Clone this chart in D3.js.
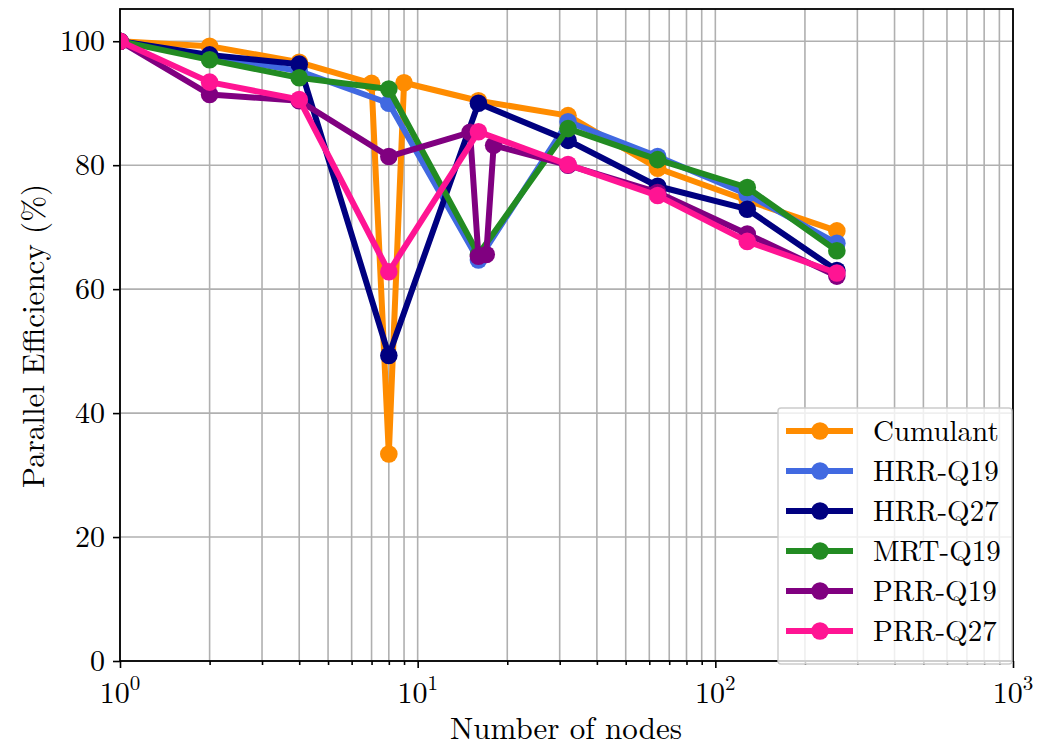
<!DOCTYPE html>
<html><head><meta charset="utf-8">
<script src="https://cdn.jsdelivr.net/npm/d3@7"></script>
<style>body{margin:0;background:#fff}svg{display:block}</style>
</head><body>
<svg id="c" width="1039" height="748"></svg>
<script>
const seriesNames = ["Cumulant","HRR-Q19","HRR-Q27","MRT-Q19","PRR-Q19","PRR-Q27"];
const seriesColors = ["#ff8c00","#4169e1","#000080","#228b22","#800080","#ff1493"];
const xCumulant = [1,2,4,7,8,9,16,32,64,128,256];
const cumulant = [100,99.2,96.6,93.2,33.4,93.3,90.4,88.0,79.5,74.3,69.4];
const xStd = [1,2,4,8,16,32,64,128,256];
const hrrQ19 = [100,97.6,95.2,90.0,64.7,87.0,81.4,75.3,67.4];
const hrrQ27 = [100,97.8,96.3,49.3,90.0,84.0,76.6,72.9,63.0];
const mrtQ19 = [100,97.0,94.1,92.3,65.6,85.9,80.9,76.4,66.2];
const xPrrQ19 = [1,2,4,8,15,16,17,18,32,64,128,256];
const prrQ19 = [100,91.4,90.4,81.4,85.3,65.3,65.6,83.2,80.0,75.6,68.9,62.1];
const prrQ27 = [100,93.4,90.6,62.8,85.4,80.1,75.1,67.7,62.6];
const yTicks = [0,20,40,60,80,100];
const xMajor = [1,10,100,1000];

const seriesX = [xCumulant,xStd,xStd,xStd,xPrrQ19,xStd];
const seriesY = [cumulant,hrrQ19,hrrQ27,mrtQ19,prrQ19,prrQ27];

const L=120,R=1013,T=9,B=661;
const svg=d3.select("#c");
const x=d3.scaleLog().domain([1,1000]).range([L,R]);
const y=d3.scaleLinear().domain([0,105.2]).range([B,T]);
const font='"Latin Modern Roman","CMU Serif","Liberation Serif",serif';

const xMinor=[];
for(let d=1;d<1000;d*=10) for(let k=2;k<=9;k++) xMinor.push(d*k);

// grid
const g=svg.append("g");
g.selectAll("line.xg").data(xMajor.concat(xMinor)).enter().append("line")
 .attr("x1",d=>x(d)).attr("x2",d=>x(d)).attr("y1",T).attr("y2",B)
 .attr("stroke","#b0b0b0").attr("stroke-width",1.6);
g.selectAll("line.yg").data(yTicks).enter().append("line")
 .attr("x1",L).attr("x2",R).attr("y1",d=>y(d)).attr("y2",d=>y(d))
 .attr("stroke","#b0b0b0").attr("stroke-width",1.6);

// series
svg.append("clipPath").attr("id","cp").append("rect").attr("x",L).attr("y",T).attr("width",R-L).attr("height",B-T);
const line=d3.line().x(d=>x(d[0])).y(d=>y(d[1]));
seriesNames.forEach((n,i)=>{
  const pts=seriesX[i].map((xv,j)=>[xv,seriesY[i][j]]);
  const sg=svg.append("g").attr("clip-path","url(#cp)");
  sg.append("path").attr("d",line(pts)).attr("fill","none").attr("stroke",seriesColors[i])
    .attr("stroke-width",6).attr("stroke-linejoin","round").attr("stroke-linecap","butt");
  sg.selectAll("circle").data(pts).enter().append("circle")
    .attr("cx",d=>x(d[0])).attr("cy",d=>y(d[1])).attr("r",8.8).attr("fill",seriesColors[i]);
});

// axes
const xa=svg.append("g").attr("transform",`translate(0,${B})`)
 .call(d3.axisBottom(x).tickValues(xMajor).tickSize(7).tickFormat(""));
const xm=svg.append("g").attr("transform",`translate(0,${B})`)
 .call(d3.axisBottom(x).tickValues(xMinor).tickSize(4).tickFormat(""));
const ya=svg.append("g").attr("transform",`translate(${L},0)`)
 .call(d3.axisLeft(y).tickValues(yTicks).tickSize(7).tickFormat(d3.format("d")));
[xa,xm,ya].forEach(a=>{a.select(".domain").remove();a.selectAll("line").attr("stroke","#000").attr("stroke-width",1.6);});
ya.selectAll("text").attr("font-family",font).attr("font-size",30).attr("fill","#000").attr("x",-15).attr("dy","0.32em");

// x labels with superscripts
xMajor.forEach(v=>{
  const t=svg.append("text").attr("x",x(v)).attr("y",703).attr("text-anchor","middle")
    .attr("font-family",font).attr("font-size",30);
  t.append("tspan").text("10");
  t.append("tspan").attr("font-size",21).attr("dy",-13).text(String(Math.round(Math.log10(v))));
});

// frame
svg.append("rect").attr("x",L).attr("y",T).attr("width",R-L).attr("height",B-T)
 .attr("fill","none").attr("stroke","#000").attr("stroke-width",1.8);

// axis titles
svg.append("text").attr("x",566).attr("y",739).attr("text-anchor","middle")
 .attr("font-family",font).attr("font-size",31).text("Number of nodes");
svg.append("text").attr("transform","translate(44,336) rotate(-90)").attr("text-anchor","middle")
 .attr("font-family",font).attr("font-size",31).text("Parallel Efficiency (%)");

// legend
const lg=svg.append("g");
lg.append("rect").attr("x",778).attr("y",408).attr("width",234).attr("height",256).attr("rx",3)
 .attr("fill","#fff").attr("fill-opacity",0.8).attr("stroke","#cccccc").attr("stroke-width",1.4);
seriesNames.forEach((n,i)=>{
  const yy=431+40*i;
  lg.append("line").attr("x1",786).attr("x2",853).attr("y1",yy).attr("y2",yy)
    .attr("stroke",seriesColors[i]).attr("stroke-width",6);
  lg.append("circle").attr("cx",820).attr("cy",yy).attr("r",8.8).attr("fill",seriesColors[i]);
  lg.append("text").attr("x",873).attr("y",yy+10).attr("font-family",font).attr("font-size",29).text(n);
});
</script>
</body></html>
